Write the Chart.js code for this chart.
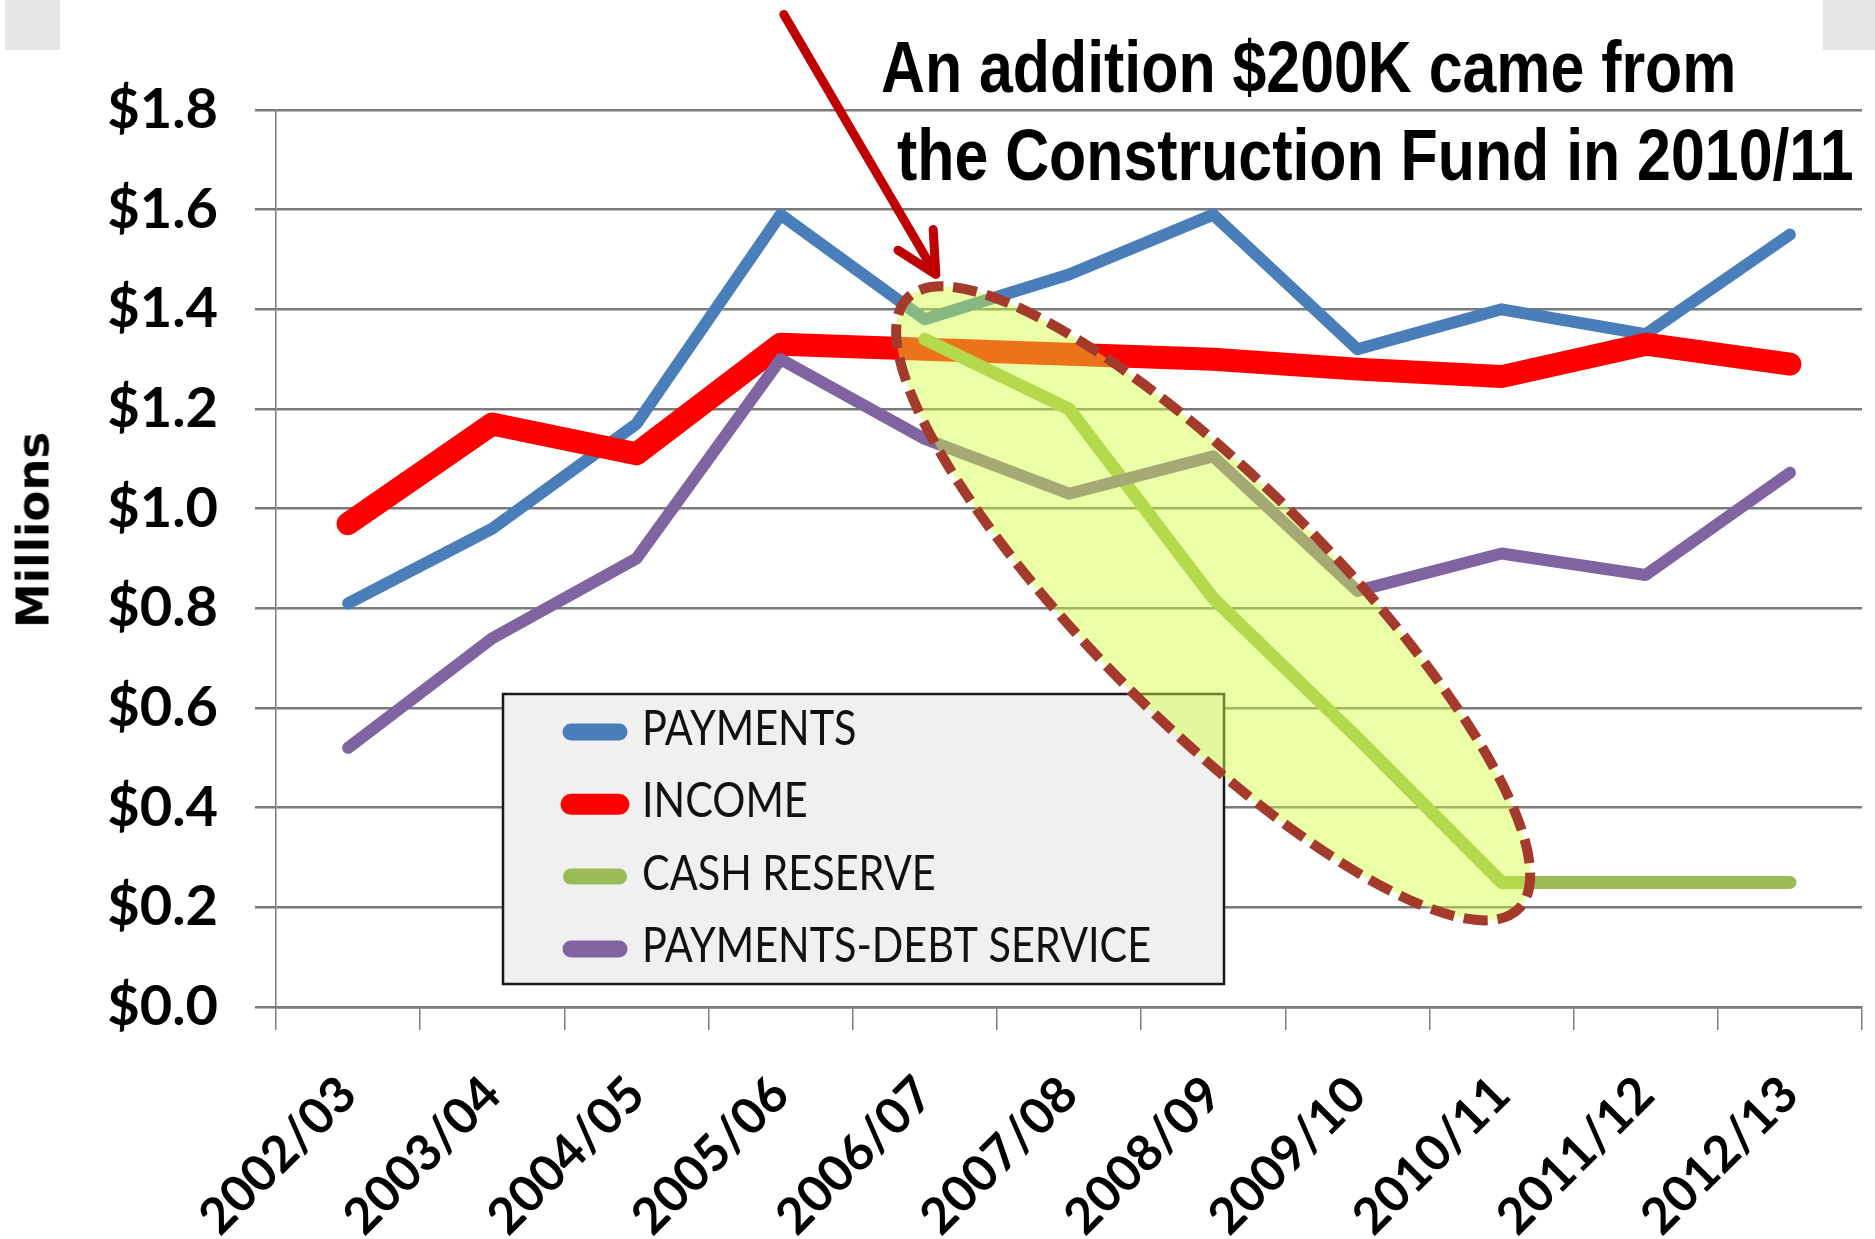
<!DOCTYPE html>
<html>
<head>
<meta charset="utf-8">
<script src="https://cdn.jsdelivr.net/npm/chart.js@4.4.0/dist/chart.umd.min.js"></script>
<style>
  html, body { margin: 0; padding: 0; background: #ffffff; }
  #wrap { position: relative; width: 1875px; height: 1239px; overflow: hidden; background: #ffffff; }
  #chart { position: absolute; left: 0; top: 0; }
  .note { position: absolute; font-family: "Liberation Sans", Arial, sans-serif; font-weight: bold;
          font-size: 72px; line-height: 72px; color: #000; white-space: nowrap;
          transform: scaleX(0.845); transform-origin: 0 0; }
  #ytitle { position: absolute; left: 33px; top: 530px; font-family: "DejaVu Sans", sans-serif; font-weight: bold;
            font-size: 45px; line-height: 45px; color: #000; white-space: nowrap;
            transform: translate(-50%, -50%) rotate(-90deg); }
  .corner { position: absolute; top: 0; height: 50px; background: #e6e6e6; }
</style>
</head>
<body>
<div id="wrap">
  <canvas id="chart" width="1875" height="1239"></canvas>
  <div class="corner" style="left:5px;width:55px;"></div>
  <div class="corner" style="left:1823px;width:52px;"></div>
  <div class="note" style="left:881px;top:31px;">An addition $200K came from</div>
  <div class="note" style="left:897px;top:119px;">the Construction Fund in 2010/11</div>
  <div id="ytitle">Millions</div>
</div>
<script>
// ---------- DATA ----------
const categories = ['2002/03','2003/04','2004/05','2005/06','2006/07','2007/08','2008/09','2009/10','2010/11','2011/12','2012/13'];
const seriesNames = ['PAYMENTS','INCOME','CASH RESERVE','PAYMENTS-DEBT SERVICE'];
const payments    = [0.81, 0.96, 1.17, 1.59, 1.38, 1.47, 1.59, 1.32, 1.40, 1.35, 1.55];
const income      = [0.97, 1.17, 1.11, 1.33, 1.32, 1.31, 1.30, 1.28, 1.265, 1.33, 1.29];
const cashReserve = [null, null, null, null, 1.34, 1.20, 0.82, 0.54, 0.25, 0.25, 0.25];
const debtService = [0.52, 0.74, 0.90, 1.30, 1.14, 1.03, 1.105, 0.835, 0.91, 0.867, 1.072];
const yMin = 0, yMax = 1.8, yStep = 0.2;

// ---------- STYLE ----------
const colors = ['#4a7ebb', '#ff0000', '#9bbb59', '#8064a2'];
const lineWidths = [12, 23, 13, 12];
const legendSwatchWidths = [17, 21, 16, 17];

const datasets = [payments, income, cashReserve, debtService].map((d, i) => ({
  label: seriesNames[i],
  data: d,
  borderColor: colors[i],
  backgroundColor: colors[i],
  borderWidth: lineWidths[i],
  borderCapStyle: 'round',
  borderJoinStyle: 'round',
  pointRadius: 0,
  pointHoverRadius: 0,
  tension: 0,
  fill: false,
  spanGaps: false,
  order: 4 - i
}));

const overlayPlugin = {
  id: 'overlay',
  afterDatasetsDraw(chart) {
    const ctx = chart.ctx, a = chart.chartArea;
    // legend box inside the plot area
    const L = a.left + 227, T = a.top + 584, W = 721, H = 290;
    ctx.save();
    ctx.fillStyle = '#f0f0f0';
    ctx.fillRect(L, T, W, H);
    ctx.strokeStyle = '#1a1a1a';
    ctx.lineWidth = 2.5;
    ctx.strokeRect(L, T, W, H);
    chart.data.datasets.forEach((ds, i) => {
      const cy = T + 38 + i * 72.3;
      ctx.strokeStyle = ds.borderColor;
      ctx.lineWidth = legendSwatchWidths[i];
      ctx.lineCap = 'round';
      ctx.beginPath();
      ctx.moveTo(L + 68, cy);
      ctx.lineTo(L + 116, cy);
      ctx.stroke();
      ctx.save();
      ctx.translate(L + 139, cy + 13);
      ctx.scale(0.9, 1.05);
      ctx.fillStyle = '#111111';
      ctx.font = '46px Lato, "Open Sans", sans-serif';
      ctx.textBaseline = 'alphabetic';
      ctx.textAlign = 'left';
      ctx.fillText(ds.label, 0, 0);
      ctx.restore();
    });
    ctx.restore();
  },
  afterDraw(chart) {
    const ctx = chart.ctx;
    const xs = chart.scales.x, ys = chart.scales.y;
    // highlight ellipse around the cash-reserve decline
    const cx = xs.getPixelForValue(6), cy = ys.getPixelForValue(0.81);
    ctx.save();
    ctx.beginPath();
    ctx.ellipse(cx, cy, 432, 120, Math.PI / 4, 0, Math.PI * 2);
    ctx.fillStyle = 'rgba(210,255,60,0.45)';
    ctx.fill();
    ctx.setLineDash([24, 10]);
    ctx.lineWidth = 10;
    ctx.strokeStyle = '#a33a2b';
    ctx.stroke();
    ctx.restore();
    // arrow
    const tx = xs.getPixelForValue(4) + 11, ty = ys.getPixelForValue(1.47);
    const sx = tx - 152, sy = ty - 260;
    const ang = Math.atan2(sy - ty, sx - tx);
    const wing = 45, spread = 27 * Math.PI / 180;
    ctx.save();
    ctx.strokeStyle = '#c00000';
    ctx.lineWidth = 9;
    ctx.lineCap = 'round';
    ctx.lineJoin = 'round';
    ctx.beginPath();
    ctx.moveTo(sx, sy);
    ctx.lineTo(tx, ty);
    ctx.moveTo(tx + wing * Math.cos(ang - spread), ty + wing * Math.sin(ang - spread));
    ctx.lineTo(tx, ty);
    ctx.lineTo(tx + wing * Math.cos(ang + spread), ty + wing * Math.sin(ang + spread));
    ctx.stroke();
    ctx.restore();
  }
};

function build() {
  new Chart(document.getElementById('chart'), {
    type: 'line',
    data: { labels: categories, datasets: datasets },
    plugins: [overlayPlugin],
    options: {
      responsive: false,
      animation: false,
      devicePixelRatio: 1,
      layout: { padding: { left: 0, right: 13, top: 110, bottom: 0 } },
      plugins: { legend: { display: false }, tooltip: { enabled: false }, title: { display: false } },
      scales: {
        x: {
          type: 'category',
          offset: true,
          afterFit(scale) { scale.height = 232; },
          grid: { display: true, offset: true, drawOnChartArea: false, drawTicks: true,
                  tickLength: 23, color: '#7f7f7f', lineWidth: 1.5 },
          border: { display: true, color: '#7a7a7a', width: 2.5 },
          ticks: { autoSkip: false, maxRotation: 45, minRotation: 45, padding: 35, color: '#000',
                   font: { family: 'Lato, "Open Sans", sans-serif', weight: 'bold', size: 50 } }
        },
        y: {
          min: yMin, max: yMax,
          afterFit(scale) { scale.width = 276; },
          grid: { color: '#7a7a7a', lineWidth: 2.5, tickLength: 21, drawTicks: true },
          border: { display: true, color: '#7a7a7a', width: 1.5 },
          ticks: { stepSize: yStep, padding: 37, color: '#000',
                   font: { family: 'Lato, "Open Sans", sans-serif', weight: 'bold', size: 56 },
                   callback: (v) => '$' + Number(v).toFixed(1) }
        }
      }
    }
  });
}

if (document.fonts && document.fonts.load) {
  Promise.all([
    document.fonts.load('bold 56px Lato'),
    document.fonts.load('46px Lato')
  ]).then(build, build);
} else {
  build();
}
</script>
</body>
</html>
